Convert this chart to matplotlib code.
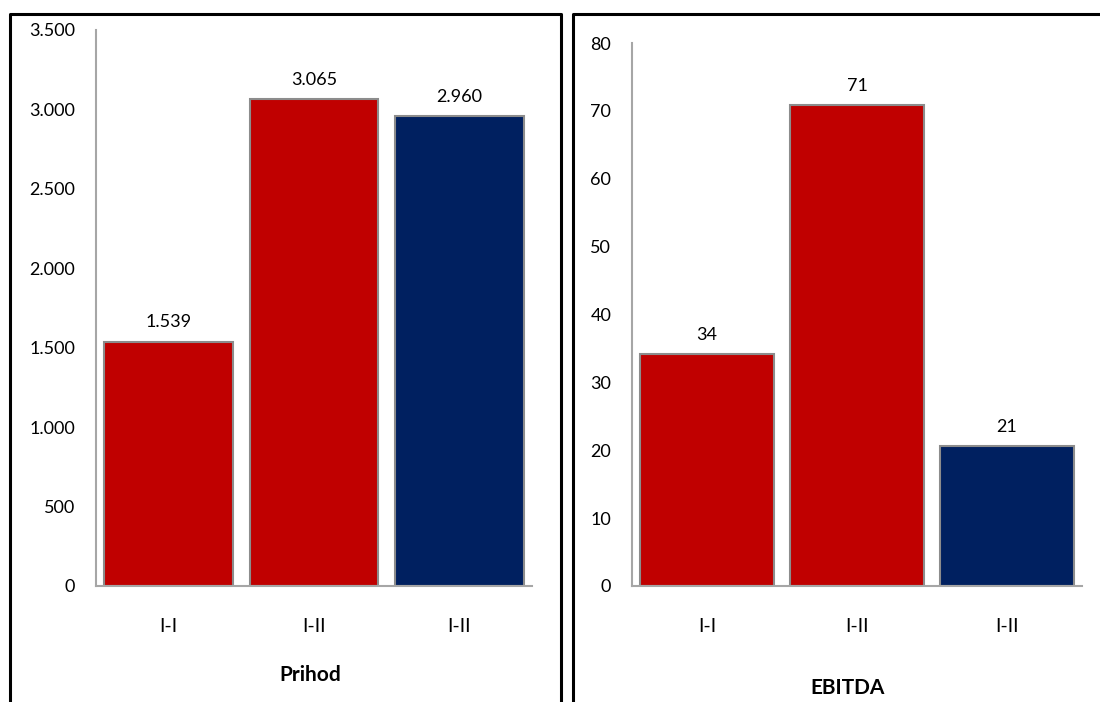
import matplotlib
matplotlib.use('Agg')
import matplotlib.pyplot as plt
from matplotlib.lines import Line2D

plt.rcParams['font.family'] = ['Lato', 'DejaVu Sans']

categories = ['I-I', 'I-II', 'I-II']
prihod = [1539, 3065, 2960]
ebitda = [34.2, 70.9, 20.6]
colors = ['#c00000', '#c00000', '#002060']

prihod_ticks = [0, 500, 1000, 1500, 2000, 2500, 3000, 3500]
ebitda_ticks = [0, 10, 20, 30, 40, 50, 60, 70, 80]

W, H = 1100, 702


def fmt(v):
    return f'{v:,.0f}'.replace(',', '.')


def draw_panel(ax, values, ticks):
    x = range(len(values))
    bars = ax.bar(x, values, width=0.887, color=colors, edgecolor='#8c8c8c', linewidth=1.5)
    for b, v in zip(bars, values):
        ax.annotate(fmt(v), (b.get_x() + b.get_width() / 2, v), xytext=(0, 8),
                    textcoords='offset points', ha='center', va='bottom', fontsize=13)
    ax.set_xlim(-0.5, len(values) - 0.5)
    ax.set_ylim(ticks[0], ticks[-1])
    ax.set_yticks(ticks)
    ax.set_yticklabels([fmt(t) for t in ticks], fontsize=13)
    ax.set_xticks(list(x))
    ax.set_xticklabels(categories, fontsize=14)
    ax.tick_params(axis='both', length=0)
    ax.tick_params(axis='y', pad=15)
    ax.tick_params(axis='x', pad=23)
    for s in ['top', 'right']:
        ax.spines[s].set_visible(False)
    for s in ['left', 'bottom']:
        ax.spines[s].set_color('#a6a6a6')
        ax.spines[s].set_linewidth(1.5)


fig = plt.figure(figsize=(11, 7.02), dpi=100)

ax1 = fig.add_axes([96 / W, 1 - 586 / H, 436 / W, 556 / H])
draw_panel(ax1, prihod, prihod_ticks)

ax2 = fig.add_axes([632 / W, 1 - 586 / H, 450 / W, 543 / H])
draw_panel(ax2, ebitda, ebitda_ticks)

fig.text(310 / W, 1 - 675 / H, 'Prihod', ha='center', va='center', fontsize=15, fontweight='bold')
fig.text(848 / W, 1 - 688 / H, 'EBITDA', ha='center', va='center', fontsize=15, fontweight='bold')

# panel frames
def px(x, y):
    return x / W, 1 - y / H

for xs, ys in [([10, 10, 561, 561], [702, 14, 14, 702]),
               ([573, 573, 1100], [702, 14, 14])]:
    pts = [px(a, b) for a, b in zip(xs, ys)]
    fig.add_artist(Line2D([p[0] for p in pts], [p[1] for p in pts],
                          transform=fig.transFigure, color='black', linewidth=2.2))

plt.savefig('out.png', dpi=100)
